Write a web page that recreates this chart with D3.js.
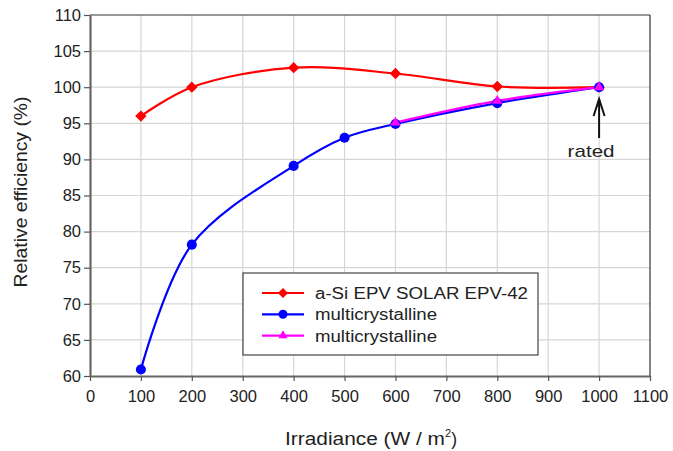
<!DOCTYPE html>
<html><head><meta charset="utf-8">
<script src="https://cdn.jsdelivr.net/npm/d3@7"></script>
<style>body{margin:0;background:#fff;} text{font-family:"Liberation Sans",Arial,sans-serif;fill:#222;}</style>
</head><body>
<svg id="c" width="673" height="451"></svg>
<script>
const xTicks = [0,100,200,300,400,500,600,700,800,900,1000,1100];
const yTicks = [60,65,70,75,80,85,90,95,100,105,110];
const aSiX = [100,200,400,600,800,1000];
const aSiY = [96.0,100.0,102.7,101.9,100.1,100.0];
const mc1X = [100,200,400,500,600,800,1000];
const mc1Y = [60.9,78.2,89.1,93.0,94.9,97.8,100.0];
const mc2X = [600,800,1000];
const mc2Y = [95.1,98.1,100.0];
const seriesNames = ["a-Si EPV SOLAR EPV-42","multicrystalline","multicrystalline"];
const colors = ["#ff0000","#0000ff","#ff00ff"];

const svg = d3.select("#c");
const L=90, R=650, T=15, B=376;
const x = d3.scaleLinear().domain([0,1100]).range([L,R]);
const y = d3.scaleLinear().domain([60,110]).range([B,T]);

// grid
svg.append("g").selectAll("line").data(xTicks.slice(1,-1)).join("line")
  .attr("x1",d=>x(d)).attr("x2",d=>x(d)).attr("y1",T).attr("y2",B)
  .attr("stroke","#d6d6d6").attr("stroke-width",1.2);
svg.append("g").selectAll("line").data(yTicks.slice(1,-1)).join("line")
  .attr("y1",d=>y(d)).attr("y2",d=>y(d)).attr("x1",L).attr("x2",R)
  .attr("stroke","#d6d6d6").attr("stroke-width",1.2);
// frame top/right
svg.append("line").attr("x1",L).attr("x2",R).attr("y1",T).attr("y2",T).attr("stroke","#333").attr("stroke-width",1.2);
svg.append("line").attr("x1",R).attr("x2",R).attr("y1",T).attr("y2",B).attr("stroke","#333").attr("stroke-width",1.2);

// axes
const fmt = d3.format("d");
const xAxis = svg.append("g").attr("transform",`translate(0,${B})`)
  .call(d3.axisBottom(x).tickValues(xTicks).tickFormat(fmt).tickSize(5).tickPadding(9).tickSizeOuter(0));
const yAxis = svg.append("g").attr("transform",`translate(${L},0)`)
  .call(d3.axisLeft(y).tickValues(yTicks).tickFormat(fmt).tickSize(6).tickPadding(3).tickSizeOuter(0));
[xAxis,yAxis].forEach(a=>{
  a.selectAll("path").attr("stroke","#666").attr("stroke-width",2.2);
  a.selectAll("line").attr("stroke","#555").attr("stroke-width",1.2);
  a.selectAll("text").style("font-size","16.5px").attr("fill","#222");
});

// titles
svg.append("text").attr("transform","translate(27,192) rotate(-90)").attr("text-anchor","middle")
  .style("font-size","17.5px").attr("textLength",191).attr("lengthAdjust","spacingAndGlyphs")
  .text("Relative efficiency (%)");
const xt = svg.append("text").attr("x",371).attr("y",445).attr("text-anchor","middle").style("font-size","17.5px");
xt.append("tspan").attr("textLength",160).attr("lengthAdjust","spacingAndGlyphs").text("Irradiance (W / m");
xt.append("tspan").attr("dy",-8).style("font-size","11px").text("2");
xt.append("tspan").attr("dy",8).text(")");

// lines
const line = d3.line().x(d=>x(d[0])).y(d=>y(d[1])).curve(d3.curveCatmullRom.alpha(0.5));
const datasets = [d3.zip(aSiX,aSiY), d3.zip(mc1X,mc1Y), d3.zip(mc2X,mc2Y)];
const symTypes = [d3.symbolSquare, d3.symbolCircle, d3.symbolTriangle];
const symSizes = [64, 80, 45];
const symRot = [45, 0, 0];
datasets.forEach((ds,i)=>{
  svg.append("path").attr("d",line(ds)).attr("fill","none").attr("stroke",colors[i]).attr("stroke-width",2.2);
});
datasets.forEach((ds,i)=>{
  svg.append("g").selectAll("path").data(ds).join("path")
    .attr("transform",d=>`translate(${x(d[0])},${y(d[1])}) rotate(${symRot[i]})`)
    .attr("d",d3.symbol(symTypes[i],symSizes[i])).attr("fill",colors[i]);
});

// annotation
const ax = x(1000);
svg.append("line").attr("x1",ax).attr("x2",ax).attr("y1",99).attr("y2",138)
  .attr("stroke","#111").attr("stroke-width",2);
svg.append("path").attr("d",`M${ax-5.5},${116} L${ax},${99} L${ax+5.5},${116}`)
  .attr("fill","none").attr("stroke","#111").attr("stroke-width",2);
svg.append("text").attr("x",ax-8).attr("y",157).attr("text-anchor","middle").style("font-size","17px")
  .attr("textLength",47).attr("lengthAdjust","spacingAndGlyphs").text("rated");

// legend
const lg = svg.append("g");
lg.append("rect").attr("x",243).attr("y",273).attr("width",295).attr("height",82)
  .attr("fill","#fff").attr("stroke","#444").attr("stroke-width",1.2);
const legendLens = [213,122,122];
seriesNames.forEach((n,i)=>{
  const yy = 293 + i*21.3;
  lg.append("line").attr("x1",262).attr("x2",304).attr("y1",yy).attr("y2",yy).attr("stroke",colors[i]).attr("stroke-width",2.2);
  lg.append("path").attr("transform",`translate(283,${yy}) rotate(${symRot[i]})`).attr("d",d3.symbol(symTypes[i],symSizes[i]*0.8)).attr("fill",colors[i]);
  lg.append("text").attr("x",315).attr("y",yy+6).style("font-size","16px")
    .attr("textLength",legendLens[i]).attr("lengthAdjust","spacingAndGlyphs").text(n);
});
</script>
</body></html>
